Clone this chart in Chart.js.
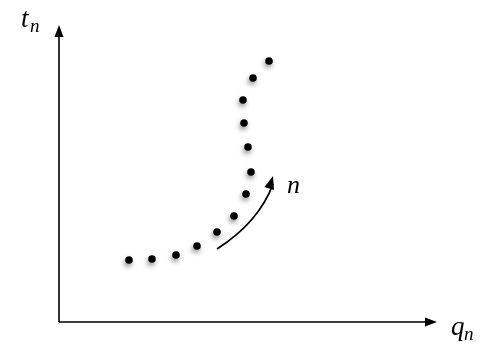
<!DOCTYPE html>
<html>
<head>
<meta charset="utf-8">
<script src="https://cdn.jsdelivr.net/npm/chart.js@4"></script>
<style>
  html, body { margin: 0; padding: 0; background: #fff; }
  canvas { display: block; }
  #fontWarm { position: absolute; left: -1000px; top: 0; font: italic 20px "Liberation Serif", "Times New Roman", serif; }
</style>
</head>
<body>
<canvas id="myChart" width="491" height="346"></canvas>
<span id="fontWarm">tnq</span>
<script>
// Sequence of points (q_n, t_n)
var qValues = [70, 93, 117, 138, 158, 175, 187, 192, 189, 185, 184, 194, 210];
var tValues = [62, 63, 67, 76, 90, 106, 128, 150, 175, 199, 222, 244, 261];

// curved arrow showing the direction of n (start, control, end)
var arrowQ = [158, 200, 214];
var arrowT = [73, 100, 146];

var xMax = 378;
var yMax = 297;

var serif = '"Liberation Serif", "Times New Roman", "DejaVu Serif", serif';

var points = qValues.map(function (q, i) { return { x: q, y: tValues[i] }; });

function drawHead(ctx, x, y, angle, len, half) {
    ctx.save();
    ctx.translate(x, y);
    ctx.rotate(angle);
    ctx.beginPath();
    ctx.moveTo(0, 0);
    ctx.lineTo(-len, -half);
    ctx.lineTo(-len, half);
    ctx.closePath();
    ctx.fill();
    ctx.restore();
}

var shadowPlugin = {
    id: 'shadow',
    beforeDatasetsDraw: function (chart) {
        var ctx = chart.ctx;
        ctx.save();
        ctx.shadowColor = 'rgba(0,0,0,0.45)';
        ctx.shadowBlur = 5;
        ctx.shadowOffsetX = -1;
        ctx.shadowOffsetY = 3;
    },
    afterDatasetsDraw: function (chart) {
        chart.ctx.restore();
    }
};

var decorPlugin = {
    id: 'decor',
    afterDraw: function (chart) {
        var ctx = chart.ctx;
        var xs = chart.scales.x, ys = chart.scales.y;
        var x0 = xs.getPixelForValue(0), y0 = ys.getPixelForValue(0);
        var x1 = xs.getPixelForValue(xMax), y1 = ys.getPixelForValue(yMax);
        ctx.save();
        ctx.strokeStyle = '#000';
        ctx.fillStyle = '#000';
        ctx.lineWidth = 1.6;
        // axes
        ctx.beginPath();
        ctx.moveTo(x0, y0);
        ctx.lineTo(x0, y1 + 8);
        ctx.moveTo(x0, y0);
        ctx.lineTo(x1 - 8, y0);
        ctx.stroke();
        drawHead(ctx, x0, y1, -Math.PI / 2, 12, 4.5);
        drawHead(ctx, x1, y0, 0, 12, 4.5);

        // curved arrow
        var ax = arrowQ.map(function (v) { return xs.getPixelForValue(v); });
        var ay = arrowT.map(function (v) { return ys.getPixelForValue(v); });
        ctx.lineWidth = 1.8;
        ctx.beginPath();
        ctx.moveTo(ax[0], ay[0]);
        ctx.quadraticCurveTo(ax[1], ay[1], ax[2], ay[2] + 8);
        ctx.stroke();
        var ang = Math.atan2(ay[2] - ay[1], ax[2] - ax[1]);
        drawHead(ctx, ax[2], ay[2], ang, 13, 5);

        // labels
        ctx.textBaseline = 'alphabetic';
        ctx.font = 'italic 27px ' + serif;
        ctx.fillText('t', 21, 27);
        ctx.font = 'italic 19px ' + serif;
        ctx.fillText('n', 30, 32);

        ctx.font = 'italic 27px ' + serif;
        ctx.fillText('q', 451, 335);
        ctx.font = 'italic 19px ' + serif;
        ctx.fillText('n', 464, 340);

        ctx.font = 'italic 26px ' + serif;
        ctx.fillText('n', 287, 193);
        ctx.restore();
    }
};

var ctx = document.getElementById('myChart').getContext('2d');
var myChart = new Chart(ctx, {
    type: 'scatter',
    data: {
        datasets: [{
            label: 'sequence',
            data: points,
            backgroundColor: '#000',
            borderColor: '#000',
            pointRadius: 3.8,
            pointBorderWidth: 0
        }]
    },
    options: {
        responsive: false,
        animation: false,
        layout: { padding: { left: 59, right: 54, top: 25, bottom: 24 } },
        plugins: { legend: { display: false }, tooltip: { enabled: false } },
        scales: {
            x: { type: 'linear', min: 0, max: xMax, display: false },
            y: { type: 'linear', min: 0, max: yMax, display: false }
        }
    },
    plugins: [shadowPlugin, decorPlugin]
});
</script>
</body>
</html>
